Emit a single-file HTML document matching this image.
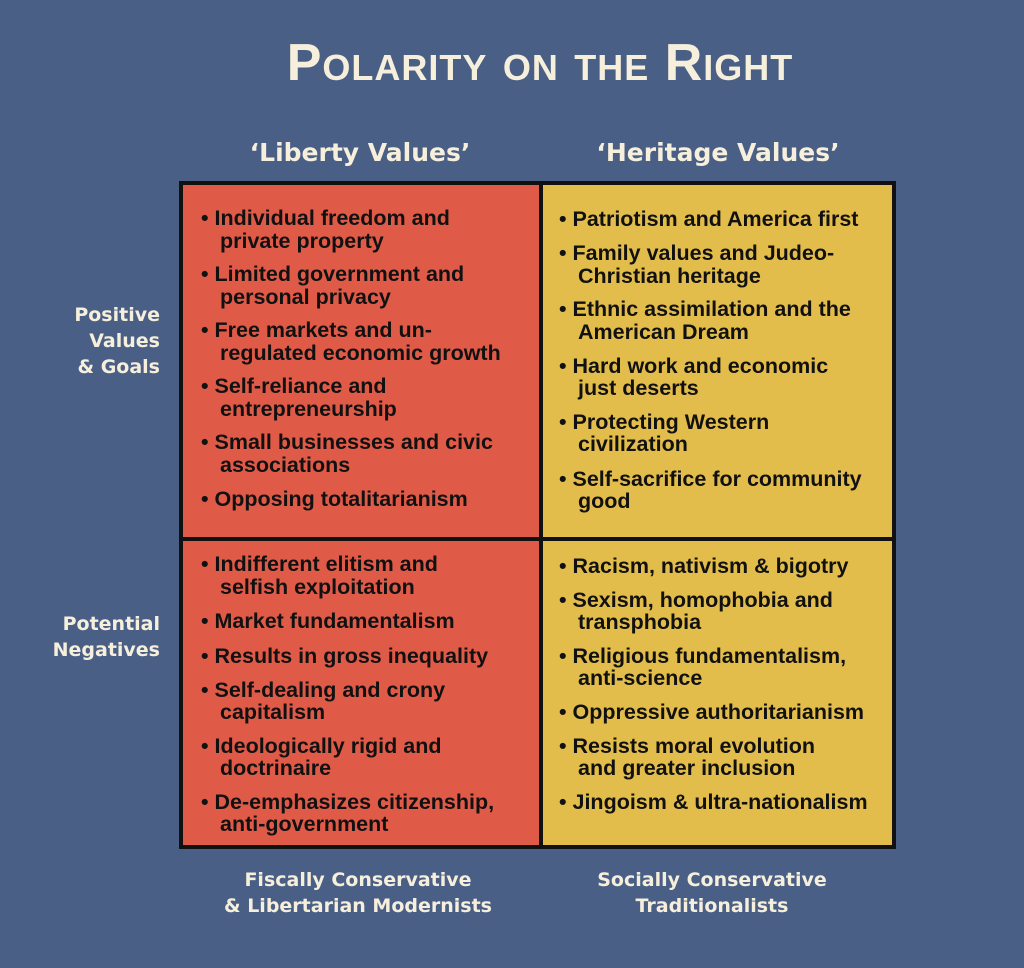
<!DOCTYPE html>
<html><head><meta charset="utf-8"><style>
body{margin:0;width:1024px;height:968px;background:#4a5f85;position:relative;overflow:hidden;font-family:"Liberation Sans",sans-serif}
.t{position:absolute;white-space:nowrap;line-height:24px;font-weight:bold;color:#111;font-size:21.5px}
.c{position:absolute;white-space:nowrap;color:#f6efdc;font-weight:bold;font-family:"DejaVu Sans","Liberation Sans",sans-serif}
.box{position:absolute;border:4px solid #111;box-sizing:border-box}
</style></head><body>
<div class="c" style="left:0;width:1080px;text-align:center;top:33px;font-size:52px;font-variant:small-caps;font-family:'Liberation Sans',sans-serif;letter-spacing:1px">Polarity on the Right</div>
<div class="c" style="left:230px;width:260px;text-align:center;top:138px;font-size:25px">‘Liberty Values’</div>
<div class="c" style="left:588px;width:260px;text-align:center;top:138px;font-size:25px">‘Heritage Values’</div>
<div class="c" style="right:864px;text-align:right;top:302px;font-size:19px;line-height:26px">Positive<br>Values<br>&amp; Goals</div>
<div class="c" style="right:864px;text-align:right;top:611px;font-size:19px;line-height:26px">Potential<br>Negatives</div>
<div class="c" style="left:208px;width:300px;text-align:center;top:867px;font-size:19px;line-height:26px">Fiscally Conservative<br>&amp; Libertarian Modernists</div>
<div class="c" style="left:562px;width:300px;text-align:center;top:867px;font-size:19px;line-height:26px">Socially Conservative<br>Traditionalists</div>
<div class="box" style="left:179px;top:181px;width:364px;height:360px;background:#e05a48"></div>
<div class="box" style="left:539px;top:181px;width:357px;height:360px;background:#e3bd4b"></div>
<div class="box" style="left:179px;top:537px;width:364px;height:312px;background:#e05a48"></div>
<div class="box" style="left:539px;top:537px;width:357px;height:312px;background:#e3bd4b"></div>

<div class="t" style="left:201px;top:206px">• Individual freedom and</div>
<div class="t" style="left:220px;top:229px">private property</div>
<div class="t" style="left:201px;top:262px">• Limited government and</div>
<div class="t" style="left:220px;top:285px">personal privacy</div>
<div class="t" style="left:201px;top:318px">• Free markets and un-</div>
<div class="t" style="left:220px;top:341px">regulated economic growth</div>
<div class="t" style="left:201px;top:374px">• Self-reliance and</div>
<div class="t" style="left:220px;top:397px">entrepreneurship</div>
<div class="t" style="left:201px;top:430px">• Small businesses and civic</div>
<div class="t" style="left:220px;top:453px">associations</div>
<div class="t" style="left:201px;top:487px">• Opposing totalitarianism</div>

<div class="t" style="left:559px;top:207px">• Patriotism and America first</div>
<div class="t" style="left:559px;top:241px">• Family values and Judeo-</div>
<div class="t" style="left:578px;top:264px">Christian heritage</div>
<div class="t" style="left:559px;top:297px">• Ethnic assimilation and the</div>
<div class="t" style="left:578px;top:320px">American Dream</div>
<div class="t" style="left:559px;top:354px">• Hard work and economic</div>
<div class="t" style="left:578px;top:376px">just deserts</div>
<div class="t" style="left:559px;top:410px">• Protecting Western</div>
<div class="t" style="left:578px;top:432px">civilization</div>
<div class="t" style="left:559px;top:467px">• Self-sacrifice for community</div>
<div class="t" style="left:578px;top:489px">good</div>

<div class="t" style="left:201px;top:552px">• Indifferent elitism and</div>
<div class="t" style="left:220px;top:575px">selfish exploitation</div>
<div class="t" style="left:201px;top:609px">• Market fundamentalism</div>
<div class="t" style="left:201px;top:644px">• Results in gross inequality</div>
<div class="t" style="left:201px;top:678px">• Self-dealing and crony</div>
<div class="t" style="left:220px;top:700px">capitalism</div>
<div class="t" style="left:201px;top:734px">• Ideologically rigid and</div>
<div class="t" style="left:220px;top:756px">doctrinaire</div>
<div class="t" style="left:201px;top:790px">• De-emphasizes citizenship,</div>
<div class="t" style="left:220px;top:812px">anti-government</div>

<div class="t" style="left:559px;top:554px">• Racism, nativism &amp; bigotry</div>
<div class="t" style="left:559px;top:588px">• Sexism, homophobia and</div>
<div class="t" style="left:578px;top:610px">transphobia</div>
<div class="t" style="left:559px;top:644px">• Religious fundamentalism,</div>
<div class="t" style="left:578px;top:666px">anti-science</div>
<div class="t" style="left:559px;top:700px">• Oppressive authoritarianism</div>
<div class="t" style="left:559px;top:734px">• Resists moral evolution</div>
<div class="t" style="left:578px;top:756px">and greater inclusion</div>
<div class="t" style="left:559px;top:790px">• Jingoism &amp; ultra-nationalism</div>
</body></html>
